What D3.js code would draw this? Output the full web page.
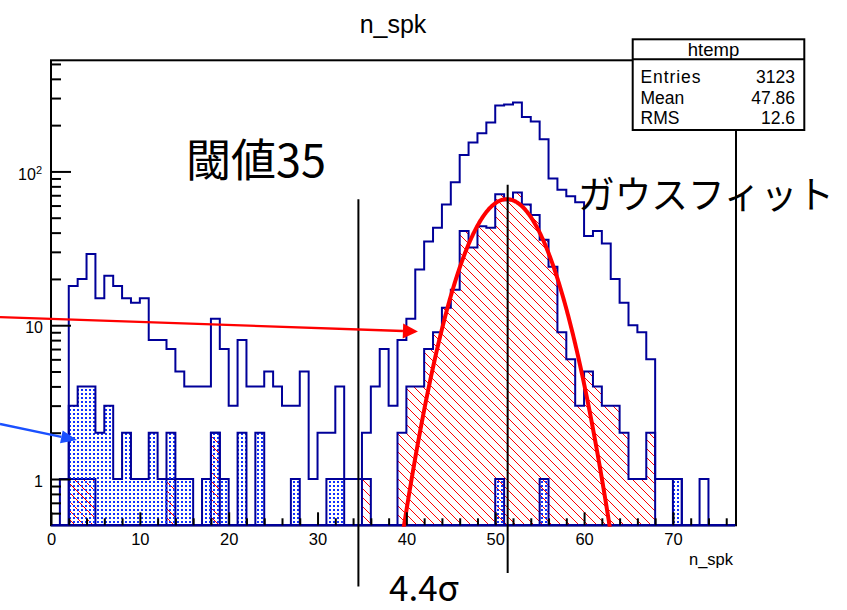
<!DOCTYPE html>
<html>
<head>
<meta charset="utf-8">
<script src="https://cdn.jsdelivr.net/npm/d3@7"></script>
<style>
  body { margin: 0; background: #fff; }
  text { font-family: "Liberation Sans", Arial, Helvetica, sans-serif; }
  .jp { font-family: "Noto Sans CJK JP", "Noto Sans", sans-serif; }
</style>
</head>
<body>
<svg id="chart" width="847" height="610"></svg>
<script>
// n_spk histograms, unit-width bins starting at 0 (index = lower bin edge)
const allCounts = [
  0, 1, 18, 20, 29, 15, 21, 18, 15, 14,
  15, 8, 8, 7, 5, 4, 4, 4, 11, 7,
  3, 8, 4, 4, 5, 4, 3, 3, 5, 1,
  2, 2, 4, 1, 1, 2, 4, 7, 3, 8,
  11, 23, 35, 43, 61, 85, 128, 154, 177, 208,
  268, 272, 281, 226, 211, 162, 90, 76, 69, 63,
  38, 41, 34, 20, 14, 10, 9, 6, 1, 1,
  1, 0, 0, 1, 0, 0, 0
];
const hatchedCounts = [
  0, 0, 1, 1, 1, 0, 0, 0, 0, 0,
  0, 0, 0, 1, 0, 0, 0, 0, 2, 0,
  0, 0, 0, 0, 0, 0, 0, 0, 0, 0,
  0, 0, 0, 0, 0, 1, 0, 0, 0, 2,
  4, 4, 7, 9, 13, 17, 41, 32, 44, 43,
  71, 65, 73, 61, 52, 36, 24, 9, 6, 3,
  5, 4, 3, 3, 2, 1, 1, 2, 0, 0,
  0, 0, 0, 0, 0, 0, 0
];
const dottedCounts = [
  0, 0, 3, 4, 4, 2, 3, 1, 2, 1,
  1, 2, 1, 2, 1, 1, 0, 1, 2, 1,
  0, 2, 0, 2, 0, 0, 0, 1, 0, 0,
  0, 1, 1, 0, 0, 0, 0, 0, 0, 0,
  0, 0, 0, 0, 0, 0, 0, 0, 0, 0,
  1, 0, 0, 0, 0, 1, 0, 0, 0, 0,
  0, 0, 0, 0, 0, 0, 0, 0, 0, 0,
  1, 0, 0, 0, 0, 0, 0
];

// Gaussian fit: amplitude, mean, sigma, drawing range
const fitAmp = [66];
const fitMean = [51.3];
const fitSigma = [3.70];
const fitRange = [38, 65];

// axis ticks
const xMajorTicks = [0, 10, 20, 30, 40, 50, 60, 70];
const xMinorTicks = d3.range(2, 77, 2).filter(v => v % 10 !== 0);
const yMajorTicks = [1, 10, 100];
const yMinorTicks = [0.6, 0.7, 0.8, 0.9, 2, 3, 4, 5, 6, 7, 8, 9,
                     20, 30, 40, 50, 60, 70, 80, 90, 200, 300, 400, 500];

// stats box
const statLabels = ["Entries", "Mean", "RMS"];
const statValues = ["3123", "47.86", "12.6"];

// annotations: threshold and fit-mean markers, arrows (data coordinates)
const markerX = [34.6, 51.4];
const markerY = [[66, 0.2], [82, 0.245]];
const redArrow = [[-5.74, 11.3], [41.3, 9.1]];
const blueArrow = [[-5.74, 2.28], [2.93, 1.79]];

const svg = d3.select("#chart");
const frame = { left: 51, right: 736, top: 60.3, bottom: 525.3 };

const x = d3.scaleLinear().domain([0, 77.1]).range([frame.left, frame.right]);
const y = d3.scaleLog().domain([0.5, 528]).range([frame.bottom, frame.top]);

const navy = "#000099";

// fill patterns: red back-diagonal hatch and blue dot grid
const defs = svg.append("defs");
const hatch = defs.append("pattern").attr("id", "hatch")
  .attr("patternUnits", "userSpaceOnUse").attr("width", 9).attr("height", 9);
hatch.append("path").attr("d", "M0,0L9,9M-3,6L3,12M6,-3L12,3")
  .attr("stroke", "#ff0000").attr("stroke-width", 1).attr("fill", "none");
const dots = defs.append("pattern").attr("id", "dots")
  .attr("patternUnits", "userSpaceOnUse").attr("width", 4).attr("height", 4);
dots.append("rect").attr("x", 1).attr("y", 1).attr("width", 2).attr("height", 2)
  .attr("fill", "#1030ff").attr("shape-rendering", "crispEdges");

defs.append("clipPath").attr("id", "frameClip").append("rect")
  .attr("x", frame.left).attr("y", frame.top)
  .attr("width", frame.right - frame.left).attr("height", frame.bottom - frame.top + 1.5);

// frame
svg.append("rect").attr("x", frame.left).attr("y", frame.top)
  .attr("width", frame.right - frame.left).attr("height", frame.bottom - frame.top)
  .attr("fill", "#fff").attr("stroke", "#000").attr("stroke-width", 2);

// step outline of a histogram; empty bins sit on the bottom of the frame
function stepPath(counts) {
  const yb = frame.bottom;
  const yv = v => (v > 0 ? y(v) : yb);
  let d = `M${x(0)},${yb}`;
  counts.forEach((v, i) => {
    d += `L${x(i)},${yv(v)}L${x(i + 1)},${yv(v)}`;
  });
  d += `L${x(counts.length)},${yb}Z`;
  return d;
}

const plot = svg.append("g").attr("clip-path", "url(#frameClip)");

plot.append("path").attr("d", stepPath(allCounts))
  .attr("fill", "none").attr("stroke", navy).attr("stroke-width", 2);
plot.append("path").attr("d", stepPath(hatchedCounts))
  .attr("fill", "url(#hatch)").attr("stroke", navy).attr("stroke-width", 2);
plot.append("path").attr("d", stepPath(dottedCounts))
  .attr("fill", "url(#dots)").attr("stroke", navy).attr("stroke-width", 2);

// Gaussian fit curve
const gauss = v => fitAmp[0] * Math.exp(-0.5 * Math.pow((v - fitMean[0]) / fitSigma[0], 2));
const fitPts = d3.range(fitRange[0], fitRange[1] + 0.001, 0.05);
plot.append("path")
  .attr("d", d3.line().x(d => x(d)).y(d => y(Math.max(gauss(d), 0.05)))(fitPts))
  .attr("fill", "none").attr("stroke", "#ff0000").attr("stroke-width", 4);

// axes
const axX = svg.append("g").attr("transform", `translate(0,${frame.bottom})`);
axX.call(d3.axisBottom(x).tickValues(xMinorTicks).tickSize(-7).tickFormat(""));
const axXMaj = svg.append("g").attr("transform", `translate(0,${frame.bottom})`);
axXMaj.call(d3.axisBottom(x).tickValues(xMajorTicks).tickSize(-13).tickPadding(8)
  .tickFormat(d3.format("d")));
const axY = svg.append("g").attr("transform", `translate(${frame.left},0)`);
axY.call(d3.axisLeft(y).tickValues(yMinorTicks).tickSize(-10).tickFormat(""));
const axYMaj = svg.append("g").attr("transform", `translate(${frame.left},0)`);
axYMaj.call(d3.axisLeft(y).tickValues(yMajorTicks).tickSize(-20).tickPadding(8)
  .tickFormat(d => (d === 100 ? "10" : String(d))));

[axX, axXMaj, axY, axYMaj].forEach(g => {
  g.select(".domain").remove();
  g.selectAll(".tick line").attr("stroke", "#000").attr("stroke-width", 2);
  g.selectAll("text").attr("fill", "#000").attr("font-family", "Liberation Sans, Arial, sans-serif");
});
axXMaj.selectAll("text").attr("font-size", 16.5);
axYMaj.selectAll("text").attr("font-size", 16).attr("dy", "0.45em");
const hundred = axYMaj.selectAll(".tick").filter(d => d === 100).select("text");
hundred.attr("dy", "0.5em").attr("x", -9).attr("text-anchor", "end");
hundred.append("tspan").attr("dy", "-0.55em").attr("font-size", 11).text("2");

// titles
svg.append("text").attr("x", 393).attr("y", 33).attr("text-anchor", "middle")
  .attr("font-size", 25).text("n_spk");
svg.append("text").attr("x", 733).attr("y", 565).attr("text-anchor", "end")
  .attr("font-size", 16.5).text("n_spk");

// marker lines
const ann = svg.append("g");
markerX.forEach((mx, i) => {
  ann.append("line")
    .attr("x1", x(mx)).attr("x2", x(mx))
    .attr("y1", y(markerY[i][0])).attr("y2", y(markerY[i][1]))
    .attr("stroke", "#000").attr("stroke-width", 2);
});

// arrows
function arrow(pts, color, width, headLen, headHalf) {
  const x0 = x(pts[0][0]), y0 = y(pts[0][1]);
  const x1 = x(pts[1][0]), y1 = y(pts[1][1]);
  const a = Math.atan2(y1 - y0, x1 - x0);
  const bx = x1 - headLen * Math.cos(a), by = y1 - headLen * Math.sin(a);
  ann.append("line").attr("x1", x0).attr("y1", y0).attr("x2", bx).attr("y2", by)
    .attr("stroke", color).attr("stroke-width", width);
  ann.append("path")
    .attr("d", `M${x1},${y1}L${bx - headHalf * Math.sin(a)},${by + headHalf * Math.cos(a)}` +
               `L${bx + headHalf * Math.sin(a)},${by - headHalf * Math.cos(a)}Z`)
    .attr("fill", color);
}
arrow(redArrow, "#ff0000", 2.3, 15, 7.5);
arrow(blueArrow, "#1a50ff", 2.3, 16, 6.5);

// text annotations
svg.append("text").attr("class", "jp").attr("x", 186).attr("y", 177)
  .attr("font-size", 45).attr("fill", "#000").text("閾値35");
svg.append("text").attr("class", "jp").attr("x", 578).attr("y", 208)
  .attr("font-size", 38).attr("fill", "#000")
  .attr("textLength", 256).attr("lengthAdjust", "spacingAndGlyphs").text("ガウスフィット");
svg.append("text").attr("class", "jp").attr("x", 389).attr("y", 601)
  .attr("font-size", 35).attr("fill", "#000").text("4.4σ");

// stats box
const box = { x0: 632.7, x1: 804.3, y0: 39.3, y1: 130, sep: 59.3 };
const sb = svg.append("g");
sb.append("rect").attr("x", box.x0).attr("y", box.y0)
  .attr("width", box.x1 - box.x0).attr("height", box.y1 - box.y0)
  .attr("fill", "#fff").attr("stroke", "#000").attr("stroke-width", 2);
sb.append("line").attr("x1", box.x0).attr("x2", box.x1)
  .attr("y1", box.sep).attr("y2", box.sep).attr("stroke", "#000").attr("stroke-width", 2);
sb.append("text").attr("x", 713.5).attr("y", 56).attr("text-anchor", "middle")
  .attr("font-size", 18.5).text("htemp");
const rowY = [83, 103.5, 124];
statLabels.forEach((lab, i) => {
  sb.append("text").attr("x", 640.5).attr("y", rowY[i]).attr("font-size", 17.5)
    .attr("textLength", i === 0 ? 60 : null).text(lab);
  sb.append("text").attr("x", 795).attr("y", rowY[i]).attr("text-anchor", "end")
    .attr("font-size", 17.5).text(statValues[i]);
});
</script>
</body>
</html>
